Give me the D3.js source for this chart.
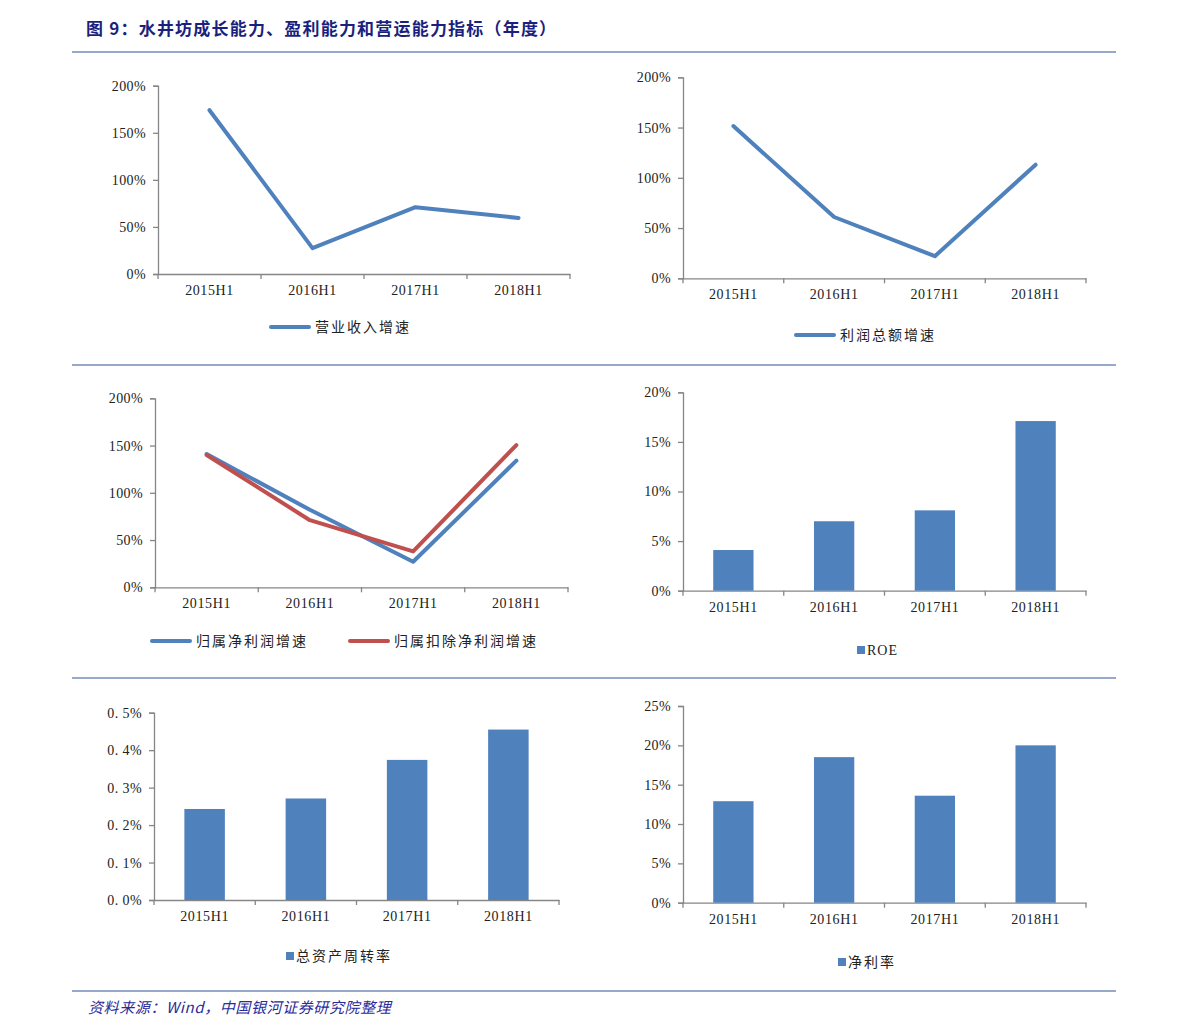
<!DOCTYPE html>
<html><head><meta charset="utf-8">
<script src="https://cdn.jsdelivr.net/npm/d3@7"></script>
<style>
html,body{margin:0;padding:0;background:#fff;}
svg{display:block;}
</style></head>
<body>
<svg id="c" width="1191" height="1036"></svg>
<script>
const categories = ["2015H1","2016H1","2017H1","2018H1"];
const revenueGrowth = [174, 27.5, 71, 59.5];
const totalProfitGrowth = [151.5, 61, 22, 113];
const netProfitGrowth = [141, 82, 27, 134];
const deductedProfitGrowth = [140, 71, 38, 150.5];
const roe = [4.1, 7.0, 8.1, 17.1];
const assetTurnover = [0.243, 0.271, 0.374, 0.455];
const netMargin = [12.9, 18.5, 13.6, 20.0];
const ticks200 = [0, 50, 100, 150, 200];
const ticksRoe = [0, 5, 10, 15, 20];
const ticksTurnover = [0, 0.1, 0.2, 0.3, 0.4, 0.5];
const ticksMargin = [0, 5, 10, 15, 20, 25];

const titleText = "图 9：水井坊成长能力、盈利能力和营运能力指标（年度）";
const sourceText = "资料来源：Wind，中国银河证券研究院整理";

const BLUE = "#4F81BD", RED = "#C0504D", AXIS = "#868686";
const svg = d3.select("#c");
const serif = "'Liberation Serif','DejaVu Serif',serif";
const cjk = "'Noto Sans CJK SC','Noto Sans',sans-serif";

svg.append("text").attr("x", 86).attr("y", 35)
  .attr("font-family", cjk).attr("font-weight", "bold").attr("font-size", 17)
  .attr("fill", "#1B1F7E").attr("letter-spacing", 1.2).text(titleText);

[52, 365, 678, 991].forEach(y => {
  svg.append("line").attr("x1", 72).attr("x2", 1116).attr("y1", y).attr("y2", y)
    .attr("stroke", "#2E5597").attr("stroke-width", 1.2);
});

svg.append("text").attr("x", 88).attr("y", 1013)
  .attr("font-family", cjk).attr("font-style", "italic").attr("font-size", 15)
  .attr("fill", "#2B2B9A").attr("letter-spacing", 0.6).text(sourceText);

function panel(cfg) {
  const g = svg.append("g");
  const x = d3.scaleBand().domain(categories).range([cfg.x0, cfg.x1]);
  const y = d3.scaleLinear().domain([0, cfg.ymax]).range([cfg.yb, cfg.yt]);

  // y axis
  const ya = d3.axisLeft(y).tickValues(cfg.ticks).tickSize(5).tickFormat(cfg.fmt);
  const yg = g.append("g").attr("transform", `translate(${cfg.x0},0)`).call(ya);
  yg.select(".domain").attr("stroke", AXIS).attr("stroke-width", 1.3);
  yg.selectAll(".tick line").attr("stroke", AXIS).attr("stroke-width", 1.3);
  yg.selectAll(".tick text").attr("font-family", serif).attr("font-size", 14)
    .attr("fill", "#222").attr("x", -12).attr("letter-spacing", 0.4);

  // x axis
  const xa = d3.axisBottom(x).tickSize(0).tickSizeOuter(0);
  const xg = g.append("g").attr("transform", `translate(0,${cfg.yb})`).call(xa);
  xg.select(".domain").attr("stroke", AXIS).attr("stroke-width", 1.3);
  xg.selectAll(".tick text").attr("font-family", serif).attr("font-size", 14)
    .attr("fill", "#222").attr("dy", "1.3em").attr("letter-spacing", 0.6);
  const bounds = categories.map(c => x(c)).concat([cfg.x1]);
  g.selectAll(".xt").data(bounds).enter().append("line")
    .attr("x1", d => d).attr("x2", d => d).attr("y1", cfg.yb).attr("y2", cfg.yb + 5)
    .attr("stroke", AXIS).attr("stroke-width", 1.3);

  if (cfg.type === "line") {
    cfg.series.forEach(s => {
      const line = d3.line().x((d, i) => x(categories[i]) + x.bandwidth() / 2).y(d => y(d));
      g.append("path").datum(s.values).attr("d", line).attr("fill", "none")
        .attr("stroke", s.color).attr("stroke-width", 4).attr("stroke-linejoin", "round")
        .attr("stroke-linecap", "round");
    });
  } else {
    const s = cfg.series[0];
    const bw = x.bandwidth() * 0.4;
    g.selectAll(".bar").data(s.values).enter().append("rect")
      .attr("x", (d, i) => x(categories[i]) + (x.bandwidth() - bw) / 2)
      .attr("width", bw)
      .attr("y", d => y(d)).attr("height", d => cfg.yb - y(d))
      .attr("fill", s.color);
  }

  // legend
  cfg.series.forEach(s => {
    if (cfg.type === "line") {
      g.append("line").attr("x1", s.lx).attr("x2", s.lx + 38).attr("y1", cfg.ly).attr("y2", cfg.ly)
        .attr("stroke", s.color).attr("stroke-width", 4).attr("stroke-linecap", "round");
      g.append("text").attr("x", s.lx + 44).attr("y", cfg.ly + 5)
        .attr("font-family", cjk).attr("font-size", 14).attr("fill", "#222")
        .attr("letter-spacing", 2).text(s.name);
    } else {
      g.append("rect").attr("x", s.lx).attr("y", cfg.ly - 4).attr("width", 8).attr("height", 8)
        .attr("fill", s.color);
      g.append("text").attr("x", s.lx + 10).attr("y", cfg.ly + 5)
        .attr("font-family", s.latin ? serif : cjk).attr("font-size", 14).attr("fill", "#222")
        .attr("letter-spacing", s.latin ? 1 : 2).text(s.name);
    }
  });
}

const pct = d => d + "%";
panel({type: "line", x0: 158, x1: 570, yt: 85.7, yb: 274, ymax: 200, ticks: ticks200, fmt: pct, ly: 327,
  series: [{name: "营业收入增速", values: revenueGrowth, color: BLUE, lx: 271}]});
panel({type: "line", x0: 683, x1: 1086, yt: 77.3, yb: 278.3, ymax: 200, ticks: ticks200, fmt: pct, ly: 335,
  series: [{name: "利润总额增速", values: totalProfitGrowth, color: BLUE, lx: 796}]});
panel({type: "line", x0: 155, x1: 568, yt: 398.3, yb: 587.3, ymax: 200, ticks: ticks200, fmt: pct, ly: 641,
  series: [{name: "归属净利润增速", values: netProfitGrowth, color: BLUE, lx: 152},
           {name: "归属扣除净利润增速", values: deductedProfitGrowth, color: RED, lx: 350}]});
panel({type: "bar", x0: 683, x1: 1086, yt: 392.3, yb: 590.7, ymax: 20, ticks: ticksRoe, fmt: pct, ly: 650,
  series: [{name: "ROE", values: roe, color: BLUE, lx: 857, latin: true}]});
panel({type: "bar", x0: 154, x1: 559, yt: 712.7, yb: 900, ymax: 0.5, ticks: ticksTurnover,
  fmt: d => d3.format(".1f")(d).replace(".", ". ") + "%", ly: 956,
  series: [{name: "总资产周转率", values: assetTurnover, color: BLUE, lx: 286}]});
panel({type: "bar", x0: 683, x1: 1086, yt: 706, yb: 902.7, ymax: 25, ticks: ticksMargin, fmt: pct, ly: 962,
  series: [{name: "净利率", values: netMargin, color: BLUE, lx: 838}]});
</script>
</body></html>
